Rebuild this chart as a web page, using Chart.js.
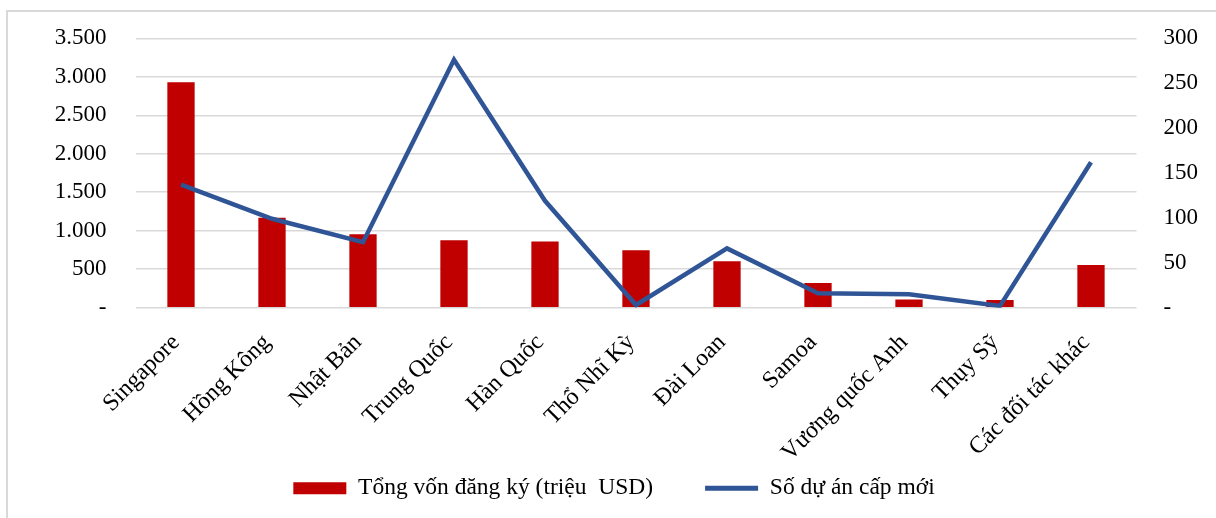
<!DOCTYPE html>
<html>
  <head>
    <meta charset="UTF-8">
    <script src="https://cdn.jsdelivr.net/npm/chart.js@4.4.0/dist/chart.umd.min.js"></script>
    <title>Đầu tư theo đối tác</title>
    <style>
      body { margin: 0; background: #fff; }
      .frame { position: absolute; left: 6px; top: 10px; width: 1210px; height: 508px;
               border-top: 2px solid #d9d9d9; border-left: 2px solid #d9d9d9; box-sizing: border-box; }
      .wrap { position: absolute; left: 0; top: 0; width: 1216px; height: 518px; }
    </style>
  </head>
  <body>
    <div class="frame"></div>
    <div class="wrap"><canvas id="myChart" width="1216" height="518"></canvas></div>
    <script type="text/javascript">
      // data
      var categories = ['Singapore', 'Hồng Kông', 'Nhật Bản', 'Trung Quốc', 'Hàn Quốc', 'Thổ Nhĩ Kỳ',
                        'Đài Loan', 'Samoa', 'Vương quốc Anh', 'Thụy Sỹ', 'Các đối tác khác'];
      var vonDangKy = [2930, 1170, 955, 875, 860, 745, 605, 320, 105, 100, 555];
      var soDuAn = [137, 99, 73, 276, 119, 3, 66, 16, 15, 2, 162];
      var leftTicks = [0, 500, 1000, 1500, 2000, 2500, 3000, 3500];
      var rightTicks = [0, 50, 100, 150, 200, 250, 300];

      var font = "'Liberation Serif', 'Times New Roman', serif";

      function fmt(v) {
        if (v === 0) return '-';
        return String(v).replace(/\B(?=(\d{3})+(?!\d))/g, '.');
      }

      // let the rotated category labels run below the (shortened) x axis box
      var labelRoom = {
        id: 'labelRoom',
        afterLayout: function(chart) { chart.scales.x.bottom = chart.height; }
      };

      function yFit(w) {
        return function(scale) {
          scale.width = w;
          scale.paddingTop = 0;
          scale.paddingBottom = 0;
        };
      }

      var ctx = document.getElementById('myChart').getContext('2d');
      var myChart = new Chart(ctx, {
        data: {
          labels: categories,
          datasets: [{
            type: 'line',
            label: 'Số dự án cấp mới',
            data: soDuAn,
            yAxisID: 'y2',
            borderColor: '#2F5597',
            backgroundColor: '#2F5597',
            borderWidth: 4.5,
            pointRadius: 0,
            tension: 0,
            order: 0
          }, {
            type: 'bar',
            label: 'Tổng vốn đăng ký (triệu  USD)',
            data: vonDangKy,
            yAxisID: 'y',
            backgroundColor: '#C00000',
            borderWidth: 0,
            barPercentage: 0.3,
            categoryPercentage: 1,
            order: 1
          }]
        },
        options: {
          responsive: false,
          animation: false,
          layout: { padding: { left: 30, right: 18, top: 38.3, bottom: 8 } },
          scales: {
            x: {
              grid: { display: false },
              border: { display: false },
              ticks: {
                autoSkip: false, minRotation: 45, maxRotation: 45, padding: 13, labelOffset: -5,
                color: '#000', font: { family: font, size: 24 }
              },
              afterFit: function(scale) {
                scale.height = 116.8;
                scale.paddingLeft = 0;
                scale.paddingRight = 0;
              }
            },
            y: {
              position: 'left',
              min: 0, max: 3500,
              afterBuildTicks: function(scale) { scale.ticks = leftTicks.map(function(v) { return { value: v }; }); },
              grid: { color: '#d9d9d9', lineWidth: 1.5, drawTicks: false },
              border: { display: false },
              ticks: {
                padding: 29, color: '#000', font: { family: font, size: 23 },
                callback: function(v) { return fmt(v); }
              },
              afterFit: yFit(105.5)
            },
            y2: {
              position: 'right',
              min: 0, max: 300,
              afterBuildTicks: function(scale) { scale.ticks = rightTicks.map(function(v) { return { value: v }; }); },
              grid: { drawOnChartArea: false, drawTicks: false },
              border: { display: false },
              ticks: {
                padding: 27, color: '#000', font: { family: font, size: 23 },
                callback: function(v) { return fmt(v); }
              },
              afterFit: yFit(61.5)
            }
          },
          plugins: {
            tooltip: { enabled: false },
            legend: {
              position: 'bottom',
              reverse: true,
              labels: {
                color: '#000',
                font: { family: font, size: 23.5 },
                usePointStyle: true,
                pointStyleWidth: 53,
                boxHeight: 12,
                padding: 52,
                generateLabels: function(chart) {
                  var items = Chart.defaults.plugins.legend.labels.generateLabels(chart);
                  items.forEach(function(it) {
                    if (it.datasetIndex === 0) { it.pointStyle = 'line'; it.lineWidth = 5; }
                    else { it.pointStyle = 'rect'; it.lineWidth = 0; }
                  });
                  return items;
                }
              }
            }
          }
        },
        plugins: [labelRoom]
      });
    </script>
  </body>
</html>
